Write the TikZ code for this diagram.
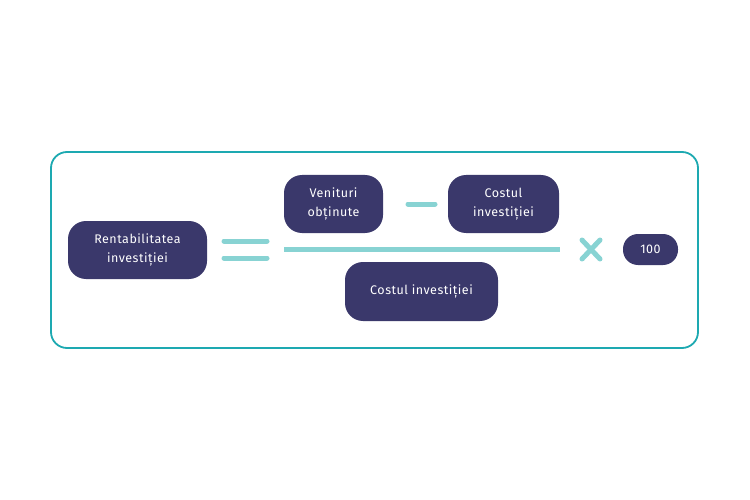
\documentclass[tikz,border=0pt]{standalone}
\usepackage{fontspec}
\setmainfont[LetterSpace=4]{Fira Sans}
\definecolor{boxfill}{HTML}{3A386B}
\definecolor{frame}{HTML}{1DA9B1}
\definecolor{sym}{HTML}{88D3D3}
\tikzset{
  term/.style={fill=boxfill, rounded corners=18pt, text=white, align=center,
    font=\fontsize{12.5}{19}\selectfont, inner sep=0pt},
  symline/.style={draw=sym, line width=5pt, line cap=round},
}
\begin{document}
\begin{tikzpicture}[x=1pt,y=-1pt]
\useasboundingbox (0,0) rectangle (750,500);
\fill[white] (0,0) rectangle (750,500);
\draw[frame, line width=1.8pt, rounded corners=16pt] (51,152) rectangle (698,348);
\node[term, minimum width=139pt, minimum height=58pt] (roi) at (137.5,250) {Rentabilitatea\\investiției};
\node[term, minimum width=99pt, minimum height=58pt] (ven) at (333.5,204) {Venituri\\obținute};
\node[term, minimum width=111pt, minimum height=58pt] (cost) at (503.5,204) {Costul\\investiției};
\node[term, minimum width=153pt, minimum height=59pt] (den) at (421.5,291.5) {Costul investiției};
\node[term, rounded corners=15pt, minimum width=55pt, minimum height=31pt] (hund) at (650.5,249.5) {100};
% equals
\draw[symline] (224,241) -- (267,241);
\draw[symline] (224,258) -- (267,258);
% minus
\coordinate (m1) at (408,204);
\coordinate (m2) at (435,204);
\draw[symline] (m1) -- (m2);
% fraction bar
\draw[symline, line cap=butt] (284,249) -- (560,249);
% times
\draw[symline] (582,240) -- (600,259);
\draw[symline] (600,240) -- (582,259);
\end{tikzpicture}
\end{document}
